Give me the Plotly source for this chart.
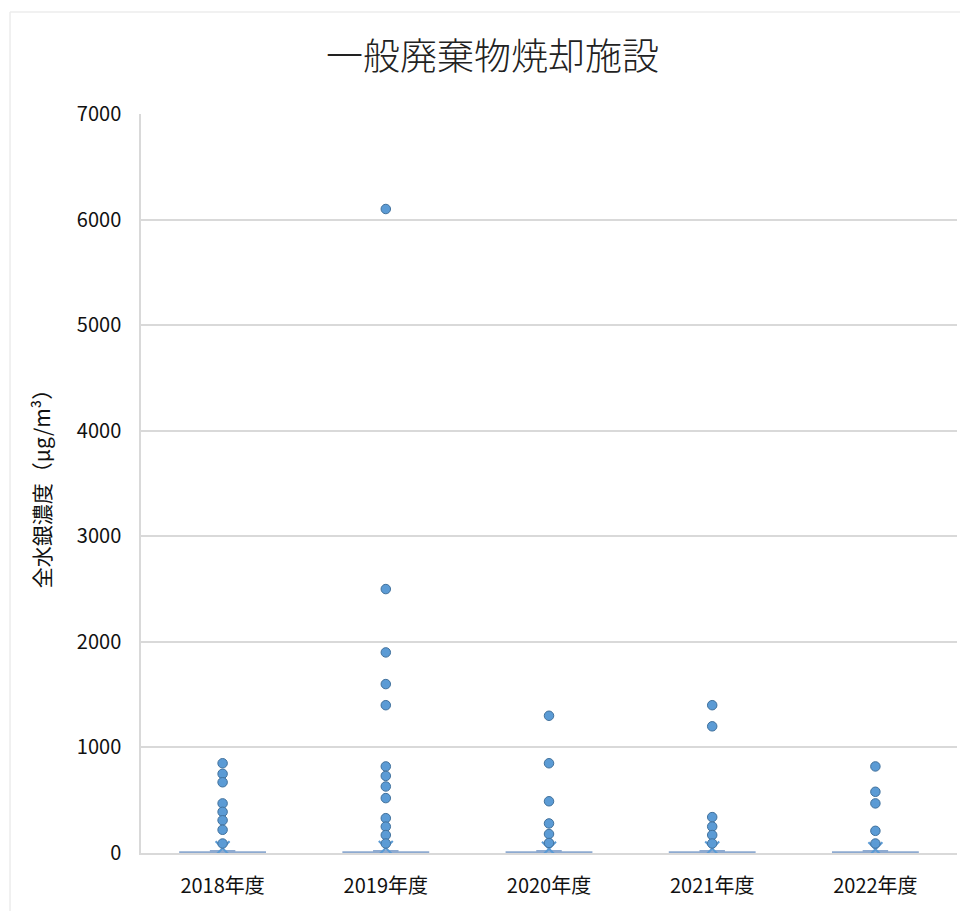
import plotly.graph_objects as go

# Fiscal years on the category axis
years = ["2018年度", "2019年度", "2020年度", "2021年度", "2022年度"]

# Box statistics per year (µg/m³); nearly all plants sit close to zero
q1 = [1, 1, 1, 1, 1]
median = [3, 3, 3, 3, 3]
q3 = [8, 8, 8, 8, 8]
lower_fence = [0, 0, 0, 0, 0]
upper_fence = [20, 20, 20, 20, 20]
mean = [45, 48, 40, 42, 35]

# Outlying measurements per year (µg/m³)
outliers_2018 = [850, 750, 670, 470, 390, 310, 220, 90]
outliers_2019 = [6100, 2500, 1900, 1600, 1400, 820, 730, 630, 520, 330, 250, 170, 90]
outliers_2020 = [1300, 850, 490, 280, 180, 95]
outliers_2021 = [1400, 1200, 340, 250, 170, 90]
outliers_2022 = [820, 580, 470, 210, 90]
outliers = [outliers_2018, outliers_2019, outliers_2020, outliers_2021, outliers_2022]

FILL = "#5B9BD5"
EDGE = "#41719C"
BOX_LINE = "#8EAAD0"
FONT = "Noto Sans CJK JP"

fig = go.Figure()

fig.add_trace(go.Box(
    x=years,
    q1=q1, median=median, q3=q3,
    lowerfence=lower_fence, upperfence=upper_fence,
    fillcolor=FILL,
    line=dict(color=BOX_LINE, width=2),
    width=0.52,
    whiskerwidth=0.3,
    boxpoints=False,
    showlegend=False,
    hoverinfo="skip",
))

# Mean markers
fig.add_trace(go.Scatter(
    x=years, y=mean, mode="markers",
    marker=dict(symbol="x-thin-open", size=14, color=FILL, line=dict(color=FILL, width=2)),
    showlegend=False,
))

# Outlier points
for yr, vals in zip(years, outliers):
    fig.add_trace(go.Scatter(
        x=[yr] * len(vals), y=vals, mode="markers",
        marker=dict(size=9.5, color=FILL, line=dict(color=EDGE, width=1)),
        showlegend=False,
    ))

# Faint frame around the chart area
fig.add_shape(type="line", xref="paper", yref="paper",
              x0=-0.1605, x1=1.1, y0=1.138, y1=1.138,
              line=dict(color="#ececec", width=1.5), layer="below")
fig.add_shape(type="line", xref="paper", yref="paper",
              x0=-0.1605, x1=-0.1605, y0=1.138, y1=-0.2,
              line=dict(color="#ececec", width=1.5), layer="below")

fig.update_layout(
    width=960, height=911,
    margin=dict(l=141, r=3, t=114, b=58),
    paper_bgcolor="white", plot_bgcolor="white",
    font=dict(family=FONT, color="#111111"),
    title=dict(text="一般廃棄物焼却施設", x=0.513, xanchor="center",
               y=0.937, yanchor="middle",
               font=dict(family=FONT, size=37, color="#222222", weight=300)),
    showlegend=False,
)

fig.update_xaxes(
    type="category", categoryorder="array", categoryarray=years,
    showgrid=False, showline=True, linecolor="#d9d9d9", linewidth=1.5,
    ticks="", ticklabelstandoff=14, tickfont=dict(size=20, color="#111111"),
    range=[-0.5, 4.5], fixedrange=True,
)
fig.update_yaxes(
    range=[0, 7000], dtick=1000, tickformat="d",
    showgrid=True, gridcolor="#d9d9d9", gridwidth=1.5,
    showline=True, linecolor="#d9d9d9", linewidth=1.5,
    zeroline=False, ticks="", ticklabelstandoff=14,
    tickfont=dict(size=20, color="#111111"),
    title=dict(text="全水銀濃度（μg/m³）", standoff=20,
               font=dict(size=21, color="#111111")),
)

fig.write_html("out.html")
